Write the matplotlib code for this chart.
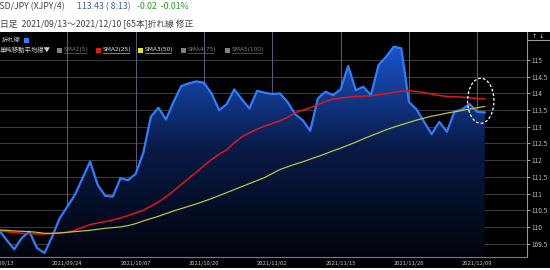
import numpy as np
import matplotlib
matplotlib.use('Agg')
import matplotlib.pyplot as plt
from matplotlib.patches import Polygon, Ellipse, Rectangle
from matplotlib.lines import Line2D
from matplotlib.colors import LinearSegmentedColormap

plt.rcParams['font.family'] = ['Noto Sans CJK JP', 'DejaVu Sans']

# ---- data (USD/JPY daily close, 65 bars) ----
close = [109.91, 109.61, 109.33, 109.67, 109.86, 109.37, 109.22, 109.71, 110.26, 110.61,
         110.96, 111.46, 111.96, 111.26, 110.93, 110.91, 111.46, 111.40, 111.59, 112.21,
         113.30, 113.57, 113.22, 113.75, 114.22, 114.30, 114.36, 114.32, 114.00, 113.50,
         113.68, 114.12, 113.82, 113.55, 114.08, 114.02, 113.98, 114.00, 113.75, 113.38,
         113.20, 112.88, 113.85, 114.05, 113.95, 114.12, 114.82, 114.10, 114.20, 113.95,
         114.85, 115.10, 115.40, 115.35, 113.75, 113.52, 113.15, 112.78, 113.15, 112.85,
         113.45, 113.52, 113.68, 113.45, 113.43]
sma25 = [109.89, 109.86, 109.83, 109.81, 109.80, 109.79, 109.79, 109.80, 109.82, 109.84,
         109.90, 109.99, 110.07, 110.12, 110.16, 110.21, 110.27, 110.34, 110.42, 110.50,
         110.62, 110.75, 110.90, 111.08, 111.27, 111.46, 111.64, 111.84, 112.02, 112.18,
         112.31, 112.52, 112.70, 112.82, 112.93, 113.02, 113.10, 113.18, 113.28, 113.42,
         113.50, 113.57, 113.66, 113.76, 113.83, 113.86, 113.89, 113.91, 113.92, 113.93,
         113.96, 113.99, 114.03, 114.07, 114.08, 114.06, 114.03, 113.98, 113.94, 113.91,
         113.90, 113.89, 113.87, 113.85, 113.83]
sma50 = [109.91, 109.90, 109.88, 109.87, 109.86, 109.84, 109.81, 109.81, 109.82, 109.84,
         109.86, 109.88, 109.90, 109.93, 109.96, 109.98, 110.00, 110.04, 110.10, 110.18,
         110.25, 110.32, 110.40, 110.48, 110.55, 110.62, 110.69, 110.77, 110.85, 110.94,
         111.03, 111.12, 111.21, 111.30, 111.39, 111.48, 111.60, 111.72, 111.80, 111.88,
         111.95, 112.03, 112.11, 112.19, 112.28, 112.36, 112.45, 112.54, 112.64, 112.73,
         112.82, 112.91, 112.99, 113.06, 113.13, 113.20, 113.26, 113.32, 113.36, 113.41,
         113.45, 113.49, 113.53, 113.57, 113.61]
date_tick_idx = [0, 9, 18, 27, 36, 45, 54, 63]
date_tick_labels = ['2021/09/13', '2021/09/24', '2021/10/07', '2021/10/20',
                    '2021/11/02', '2021/11/15', '2021/11/26', '2021/12/09']
y_ticks = [109.5, 110, 110.5, 111, 111.5, 112, 112.5, 113, 113.5, 114, 114.5, 115]
y_tick_labels = ['109.5', '110', '110.5', '111', '111.5', '112', '112.5', '113',
                 '113.5', '114', '114.5', '115']

W, H = 550, 270
fig = plt.figure(figsize=(W / 100, H / 100), dpi=100)
fig.patch.set_facecolor('white')

def fx(px):
    return px / W

def fy(py):
    return 1 - py / H

# black chart background
fig.add_artist(Rectangle((0, fy(268)), 1, fy(32) - fy(268), transform=fig.transFigure,
                         facecolor='black', edgecolor='none', zorder=-5))

ax = fig.add_axes([0, fy(257), 527 / W, (257 - 32) / H])
ax.set_facecolor('black')
ax.set_xlim(0.13, 69.56)
ax.set_ylim(109.10, 115.84)

x = np.arange(len(close))
ybot = 109.10

# grid
for v in y_ticks:
    ax.axhline(v, color='#3a3a3a', lw=0.8, zorder=1)
for i in date_tick_idx[1:]:
    ax.axvline(i, color='#58587a', lw=0.8, zorder=1)

# gradient fill under close line
cmap = LinearSegmentedColormap.from_list('g', ['#01040c', '#081a46', '#1c58d4'])
grad = np.linspace(0, 1, 256).reshape(-1, 1)
im = ax.imshow(grad, extent=[0, len(close) - 1, ybot, 115.6], origin='lower',
               aspect='auto', cmap=cmap, zorder=2)
verts = list(zip(x, close)) + [(x[-1], ybot), (x[0] - 1, ybot), (x[0] - 1, close[0])]
poly = Polygon(verts, closed=True, facecolor='none', edgecolor='none')
ax.add_patch(poly)
im.set_clip_path(poly)

ax.plot(x, close, color='#2f7dff', lw=1.6, zorder=4, solid_joinstyle='round')
ax.plot(x, sma25, color='#e01818', lw=1.1, zorder=5)
ax.plot(x, sma50, color='#c4cc3a', lw=0.85, zorder=5)

ax.add_patch(Ellipse((63.47, 113.78), 3.47, 1.35, fill=False, ec='white',
                     ls=(0, (2.2, 1.6)), lw=0.9, zorder=6))

# axes styling
for s in ['top', 'left']:
    ax.spines[s].set_visible(False)
ax.spines['right'].set_color('#9a9a9a')
ax.spines['right'].set_linewidth(0.8)
ax.spines['bottom'].set_color('#7a7a7a')
ax.spines['bottom'].set_linewidth(0.8)
ax.yaxis.tick_right()
ax.set_yticks(y_ticks)
ax.set_yticklabels(y_tick_labels)
ax.tick_params(axis='y', colors='#bdbdbd', labelsize=4.6, length=2.2, width=0.6, pad=1)
ax.set_xticks([])
for i, lab in zip(date_tick_idx, date_tick_labels):
    ax.text(i, -0.018, lab, transform=ax.get_xaxis_transform(), ha='center', va='top',
            color='#c8c8c8', fontsize=4.2, clip_on=False)

# y-axis strip top box
fig.add_artist(Line2D([fx(527), 1], [fy(40), fy(40)], color='#9a9a9a', lw=0.8))
fig.text(fx(534), fy(36), '↑', color='#cccccc', fontsize=4.5, ha='center', va='center',
         family='DejaVu Sans')
fig.text(fx(541), fy(36), '↓', color='#cccccc', fontsize=4.5, ha='center', va='center',
         family='DejaVu Sans')

# header texts
fig.text(fx(-7), fy(6.5), 'USD/JPY (XJPY/4)', color='#404040', fontsize=6.3, va='center')
fig.text(fx(77), fy(6.5), '113.43 ( 8:13)', color='#3c5ea8', fontsize=6.3, va='center')
fig.text(fx(137), fy(6.5), '-0.02  -0.01%', color='#2f9a2f', fontsize=6.3, va='center')
fig.text(fx(0), fy(24), '日足  2021/09/13～2021/12/10 [65本]折れ線 修正', color='#404040',
         fontsize=6.3, va='center')

# in-chart legend
fig.text(fx(2), fy(40), '折れ線', color='#d0d0d0', fontsize=4.5, va='center')
fig.add_artist(Rectangle((fx(23.5), fy(43)), fx(5), fy(38) - fy(43), transform=fig.transFigure,
                         facecolor='#2f7dff', edgecolor='none'))
fig.text(fx(0), fy(50), '単純移動平均線▼', color='#d0d0d0', fontsize=4.6, va='center')
leg_items = [(57, '#808080', 'SMA1(5)', '#808080'), (96, '#e01818', 'SMA2(25)', '#e8e8e8'),
             (138, '#e8e820', 'SMA3(50)', '#e8e8e8'), (181, '#808080', 'SMA4(75)', '#808080'),
             (225, '#808080', 'SMA5(100)', '#808080')]
for px, sq, lab, tc in leg_items:
    fig.add_artist(Rectangle((fx(px), fy(52.5)), fx(5), fy(47.5) - fy(52.5),
                             transform=fig.transFigure, facecolor=sq, edgecolor='none'))
    t = fig.text(fx(px + 7), fy(50), lab, color=tc, fontsize=4.2, va='center',
                 family='DejaVu Sans')
    n = len(lab)
    fig.add_artist(Line2D([fx(px + 7), fx(px + 7 + n * 3.3)], [fy(53.3), fy(53.3)],
                          color=tc, lw=0.4))

fig.savefig('out.png', dpi=100, facecolor='white')
